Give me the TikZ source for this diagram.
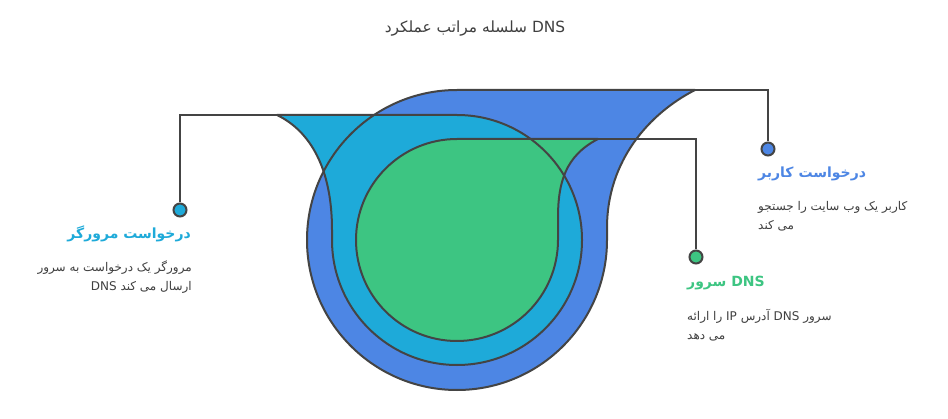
\documentclass[tikz,border=0pt]{standalone}
\usepackage{fontspec}
\setmainfont{DejaVu Sans}
\newfontfamily\arabicfont[Script=Arabic]{DejaVu Sans}
\TeXXeTstate=1
\usetikzlibrary{positioning}
\definecolor{OuterColor}{RGB}{77,134,228}
\definecolor{MiddleColor}{RGB}{30,170,217}
\definecolor{InnerColor}{RGB}{61,197,130}
\definecolor{LineColor}{RGB}{68,68,68}
\definecolor{TextColor}{RGB}{64,64,64}
\tikzstyle{layer} = [draw=LineColor, line width=2pt, line join=round]
\tikzstyle{link} = [LineColor, line width=2pt]
\tikzstyle{dot} = [circle, minimum size=13pt, inner sep=0pt, draw=LineColor, line width=2pt]
\tikzstyle{heading} = [inner sep=0pt, font=\arabicfont\bfseries\fontsize{14}{17}\selectfont]
\tikzstyle{body} = [inner sep=0pt, text=TextColor, font=\arabicfont\fontsize{12}{19}\selectfont]
\newcommand{\outerlayer}{(457,328) arc[start angle=90, end angle=360, radius=150pt] -- (607,190) .. controls (607,258) and (650,305) .. (695,328) -- cycle}
\newcommand{\middlelayer}{(457,303) arc[start angle=90, end angle=-180, radius=125pt] -- (332,188) .. controls (332,250) and (310,287) .. (277,303) -- cycle}
\newcommand{\innerlayer}{(457,279) -- (598,279) .. controls (565,262) and (558,235) .. (558,200) -- (558,178) arc[start angle=0, end angle=-270, radius=101pt] -- cycle}
\begin{document}
\begin{tikzpicture}[x=1pt, y=1pt]
    \useasboundingbox[fill=white] (0,0) rectangle (948,418);
    % title
    \node[text=TextColor, font=\arabicfont\fontsize{15.4}{18}\selectfont] (title) at (475,389) {\beginR\beginL DNS\endL{} سلسله مراتب عملکرد\endR};

    % layers: fills first, outlines on top
    \fill[OuterColor] \outerlayer;
    \fill[MiddleColor] \middlelayer;
    \fill[InnerColor] \innerlayer;
    \draw[layer] \outerlayer;
    \draw[layer] \middlelayer;
    \draw[layer] \innerlayer;

    % connectors
    \coordinate (outertop) at (695,328);
    \coordinate (middletop) at (277,303);
    \coordinate (innertop) at (598,279);
    \coordinate (usercorner) at (768,328);
    \coordinate (browsercorner) at (180,303);
    \coordinate (servercorner) at (696,279);
    \node[dot, fill=OuterColor] (userdot) at (768,269) {};
    \node[dot, fill=MiddleColor] (browserdot) at (180,208) {};
    \node[dot, fill=InnerColor] (serverdot) at (696,161) {};
    \draw[link] (outertop) -- (usercorner) -- (userdot);
    \draw[link] (middletop) -- (browsercorner) -- (browserdot);
    \draw[link] (innertop) -- (servercorner) -- (serverdot);

    % labels
    \node[heading, text=OuterColor, anchor=west] (userhead) at (758,244) {\beginR درخواست کاربر\endR};
    \node[body, align=left, anchor=north west] (userbody) at (758,217) {\beginR کاربر یک وب سایت را جستجو\endR\\\beginR می کند\endR};

    \node[heading, text=MiddleColor, anchor=east] (browserhead) at (191,184) {\beginR درخواست مرورگر\endR};
    \node[body, align=right, anchor=north east] (browserbody) at (192,157) {\beginR مرورگر یک درخواست به سرور\endR\\\beginR ارسال می کند \beginL DNS\endL\endR};

    \node[heading, text=InnerColor, anchor=west] (serverhead) at (687,135) {\beginR\beginL DNS\endL{} سرور\endR};
    \node[body, align=left, anchor=north west] (serverbody) at (687,109) {\beginR سرور \beginL DNS\endL{} آدرس \beginL IP\endL{} را ارائه\endR\\\beginR می دهد\endR};
\end{tikzpicture}
\end{document}
